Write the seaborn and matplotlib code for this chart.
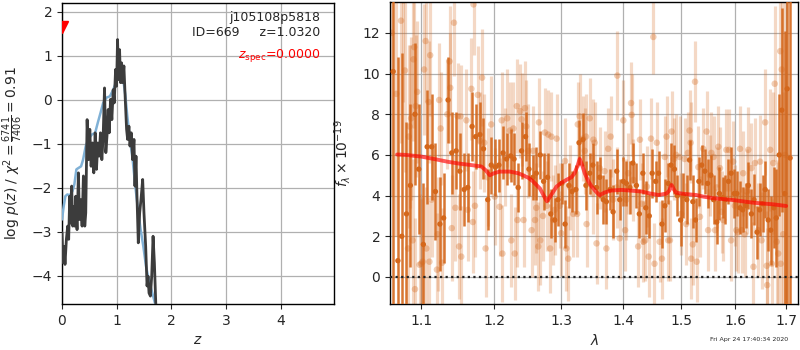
import matplotlib
matplotlib.use("Agg")
import matplotlib.pyplot as plt
import numpy as np
import pandas as pd
import seaborn as sns
from matplotlib.ticker import FixedLocator, NullLocator, FixedFormatter

# ---------------- redshift probability panel ----------------
z_pz = [0.000, 0.018, 0.037, 0.055, 0.080, 0.104, 0.122, 0.141, 0.159, 0.177,
        0.196, 0.214, 0.232, 0.251, 0.275, 0.300, 0.318, 0.343, 0.367, 0.391,
        0.416, 0.434, 0.459, 0.483, 0.508, 0.532, 0.557, 0.581, 0.606, 0.630,
        0.654, 0.679, 0.703, 0.728, 0.752, 0.777, 0.801, 0.826, 0.844, 0.862,
        0.887, 0.911, 0.936, 0.954, 0.979, 0.997, 1.015, 1.034, 1.052, 1.070,
        1.089, 1.107, 1.131, 1.156, 1.180, 1.199, 1.223, 1.242, 1.266, 1.291,
        1.315, 1.333, 1.352, 1.370, 1.394, 1.419, 1.443, 1.474, 1.498, 1.529,
        1.554, 1.572, 1.590, 1.615, 1.639, 1.664, 1.688, 1.713, 1.730]
logp = [-3.02, -3.70, -3.33, -3.74, -3.17, -2.87, -3.17, -2.19, -2.80, -1.96,
        -2.87, -2.42, -2.87, -2.19, -2.95, -1.66, -2.72, -2.27, -2.87, -1.73,
        -2.87, -2.57, -0.45, -1.36, -0.67, -1.51, -0.98, -1.66, -0.75, -1.58,
        -0.98, -1.28, -0.75, -1.36, -0.83, 0.27, -1.20, -0.75, -0.22, -0.75,
        0.01, -0.45, 0.23, -0.07, 0.69, 0.31, 1.37, 0.46, 1.14, 0.39,
        0.84, 0.39, 0.77, 0.01, -0.67, -0.90, -0.60, -1.05, -0.75, -1.36,
        -0.90, -1.96, -1.28, -2.19, -3.25, -2.57, -2.27, -1.81, -2.57, -3.33,
        -4.23, -4.01, -4.39, -4.46, -4.01, -3.10, -3.70, -4.61, -5.00]

z_chi = [0.000, 0.031, 0.061, 0.098, 0.141, 0.190, 0.226, 0.263, 0.300, 0.349,
         0.385, 0.434, 0.483, 0.544, 0.606, 0.654, 0.703, 0.752, 0.813, 0.875,
         0.936, 0.985, 1.034, 1.083, 1.119, 1.156, 1.193, 1.242, 1.291, 1.339,
         1.388, 1.437, 1.486, 1.535, 1.584, 1.633, 1.682, 1.731]
log_chi = [-2.72, -2.42, -2.19, -2.15, -2.17, -2.08, -1.92, -1.58, -1.55, -1.51,
           -1.36, -1.05, -0.90, -0.79, -0.75, -0.52, -0.30, -0.07, 0.05, 0.08,
           0.23, 0.39, 0.54, 0.55, 0.46, 0.12, -0.37, -0.90, -1.36, -1.96,
           -2.49, -2.95, -3.33, -3.78, -4.08, -4.31, -4.54, -4.77]

z_spec = 0.0
z_spec_mark = 1.65
chi2_label = r"$\log\,p(z)$ / $\chi^2=\frac{6741}{7406}=0.91$"
title_text = "j105108p5818\nID=669     z=1.0320"
zspec_text = r"$z_\mathrm{spec}$=0.0000"

# ---------------- 1D spectrum panel ----------------
wave_dark = [1.064, 1.070, 1.075, 1.081, 1.086, 1.092, 1.097, 1.103, 1.108, 1.114,
             1.119, 1.125, 1.130, 1.136, 1.141, 1.147, 1.152, 1.158, 1.163, 1.169,
             1.174, 1.180, 1.185, 1.191, 1.196, 1.202, 1.207, 1.213, 1.218, 1.224,
             1.229, 1.235, 1.240, 1.246, 1.251, 1.257, 1.262, 1.268, 1.273, 1.279,
             1.284, 1.290, 1.295, 1.301, 1.306, 1.312, 1.317, 1.323, 1.328, 1.334,
             1.339, 1.345, 1.350, 1.356, 1.361, 1.367, 1.372, 1.378, 1.383, 1.389,
             1.394, 1.400, 1.405, 1.411, 1.416, 1.422, 1.427, 1.433, 1.438, 1.444,
             1.449, 1.455, 1.460, 1.466, 1.471, 1.477, 1.482, 1.488, 1.493, 1.499,
             1.504, 1.510, 1.515, 1.521, 1.526, 1.532, 1.537, 1.543, 1.548, 1.554,
             1.559, 1.565, 1.570, 1.576, 1.581, 1.587, 1.592, 1.598, 1.603, 1.609,
             1.614, 1.620, 1.625, 1.631, 1.636, 1.642, 1.647, 1.653, 1.658, 1.664,
             1.669, 1.675, 1.680, 1.686, 1.691, 1.697, 1.702, 1.708]
flux_dark = [10.1, 0.8, 2.0, 3.1, 4.5, 8.0, 5.3, 1.6, 6.4, 6.4,
             4.2, 2.6, 2.9, 8.7, 6.1, 6.2, 5.2, 4.3, 4.4, 7.4,
             6.9, 7.0, 6.3, 3.8, 5.5, 5.4, 5.5, 6.1, 5.8, 5.95,
             5.8, 4.4, 6.2, 6.9, 5.3, 4.9, 5.1, 6.0, 4.7, 4.9,
             3.1, 2.8, 3.8, 4.6, 2.6, 4.5, 4.2, 4.3, 6.6, 6.75,
             4.5, 5.1, 5.5, 4.4, 4.9, 3.8, 3.7, 4.3, 3.2, 5.2,
             3.8, 4.7, 4.6, 4.4, 5.6, 4.5, 3.1, 5.1, 3.4, 3.0,
             5.1, 4.7, 5.1, 2.6, 3.5, 4.6, 5.5, 5.3, 4.0, 2.8,
             4.0, 3.8, 5.75, 3.7, 2.8, 4.7, 5.5, 5.2, 4.6, 5.0,
             3.8, 2.7, 4.1, 3.9, 3.8, 4.7, 5.1, 4.1, 4.1, 3.4,
             3.3, 3.5, 4.5, 3.1, 3.8, 2.2, 3.3, 3.6, 4.3, 2.8,
             2.3, 3.4, 2.9, 6.0, 8.2, 4.1, 9.25, 5.85]
err_dark = [12.0, 10.0, 9.0, 4.5, 4.0, 3.5, 3.2, 3.0, 2.8, 2.6,
            2.4, 2.3, 2.2, 2.1, 2.0, 1.9, 1.9, 1.8, 1.7, 1.7,
            1.6, 1.6, 1.5, 1.5, 1.4, 1.4, 1.3, 1.3, 1.3, 1.3,
            1.3, 1.2, 1.4, 1.2, 1.3, 1.1, 1.3, 1.2, 1.4, 1.2,
            1.2, 1.1, 1.3, 1.0, 1.2, 1.1, 1.0, 1.2, 1.1, 1.3,
            1.2, 1.0, 1.1, 1.3, 1.0, 1.2, 1.1, 1.0, 1.3, 1.1,
            1.0, 1.2, 1.1, 1.3, 1.0, 1.1, 1.2, 1.0, 1.3, 1.1,
            1.2, 1.0, 1.1, 1.2, 1.3, 1.0, 1.1, 1.2, 1.0, 1.3,
            1.1, 1.2, 1.0, 1.3, 1.1, 1.2, 1.0, 1.1, 1.2, 1.0,
            1.2, 1.1, 1.3, 1.0, 1.2, 1.1, 1.3, 1.2, 1.1, 1.3,
            1.1, 1.1, 1.15, 1.2, 1.25, 1.3, 1.3, 1.4, 1.4, 1.5,
            1.7, 2.0, 2.4, 3.0, 5.0, 8.0, 12.0, 15.0]

wave_light = [1.062, 1.068, 1.074, 1.077, 1.079, 1.083, 1.084, 1.085, 1.087, 1.089,
              1.090, 1.091, 1.092, 1.093, 1.095, 1.098, 1.100, 1.102, 1.104, 1.106,
              1.107, 1.110, 1.111, 1.112, 1.114, 1.121, 1.122, 1.124, 1.126, 1.128,
              1.135, 1.138, 1.139, 1.141, 1.144, 1.146, 1.149, 1.151, 1.153, 1.154,
              1.161, 1.163, 1.168, 1.170, 1.171, 1.173, 1.177, 1.180, 1.183, 1.186,
              1.188, 1.191, 1.196, 1.201, 1.208, 1.211, 1.212, 1.216, 1.219, 1.223,
              1.225, 1.228, 1.230, 1.233, 1.234, 1.238, 1.240, 1.243, 1.245, 1.247,
              1.250, 1.255, 1.257, 1.260, 1.262, 1.265, 1.266, 1.268, 1.272, 1.275,
              1.278, 1.280, 1.283, 1.285, 1.288, 1.290, 1.293, 1.298, 1.300, 1.306,
              1.308, 1.311, 1.314, 1.319, 1.325, 1.326, 1.329, 1.334, 1.337, 1.339,
              1.340, 1.345, 1.350, 1.351, 1.353, 1.356, 1.361, 1.369, 1.372, 1.375,
              1.379, 1.383, 1.389, 1.390, 1.394, 1.400, 1.403, 1.405, 1.408, 1.413,
              1.414, 1.417, 1.425, 1.428, 1.431, 1.434, 1.437, 1.440, 1.443, 1.447,
              1.451, 1.453, 1.457, 1.462, 1.466, 1.471, 1.474, 1.477, 1.480, 1.483,
              1.487, 1.491, 1.497, 1.500, 1.506, 1.509, 1.512, 1.515, 1.517, 1.518,
              1.521, 1.525, 1.528, 1.531, 1.534, 1.540, 1.546, 1.549, 1.552, 1.555,
              1.559, 1.562, 1.565, 1.568, 1.571, 1.574, 1.577, 1.583, 1.588, 1.592,
              1.596, 1.599, 1.602, 1.605, 1.609, 1.612, 1.615, 1.618, 1.622, 1.625,
              1.631, 1.635, 1.638, 1.644, 1.648, 1.651, 1.658, 1.661, 1.662, 1.668,
              1.671, 1.674, 1.677, 1.681, 1.684, 1.688, 1.689, 1.691, 1.694, 1.698]
flux_light = [12.0, 9.0, 12.6, 13.6, 10.15, 1.4, 6.9, 7.4, 7.8, 1.8,
              10.7, 11.3, -0.6, 8.4, 9.1, 0.6, 0.65, 0.75, 10.2, 11.6,
              1.4, 8.6, 0.75, 10.9, 3.8, 0.36, 2.1, 8.7, 7.3, 0.7,
              8.0, 10.6, 9.3, 2.4, 12.5, 3.4, 7.9, 1.5, 7.9, 1.0,
              7.7, 3.3, 9.25, 2.7, 13.4, 3.5, 8.95, 6.7, 9.8, 6.6,
              1.4, 4.9, 7.5, 3.95, 3.45, 7.7, 1.15, 5.9, 7.8, 7.2,
              1.8, 7.3, 1.15, 8.4, 2.8, 8.15, 7.75, 2.8, 8.3, 7.4,
              6.2, 2.3, 6.2, 2.8, 3.4, 1.5, 7.6, 1.8, 3.0, 7.1,
              3.5, 7.0, 1.4, 6.9, 2.8, 3.3, 6.8, 3.5, 2.15, 5.7,
              1.4, 0.9, 4.4, 3.1, 3.1, 7.5, 7.9, 6.8, 6.2, 6.9,
              2.6, 7.8, 4.1, 6.75, 6.6, 1.65, 5.35, 5.2, 1.4, 6.3,
              6.9, 3.8, 4.4, 9.9, 1.9, 7.7, 2.3, 3.8, 5.1, 8.55,
              7.97, 4.77, 1.5, 6.75, 3.6, 1.73, 1.8, 4.44, 1.0, 6.8,
              11.8, 0.65, 6.6, 1.73, 0.9, 5.9, 6.9, 1.8, 1.8, 7.15,
              5.8, 6.0, 5.9, 3.1, 5.8, 2.6, 6.1, 7.2, 6.6, 0.9,
              1.6, 9.6, 0.75, 5.4, 2.96, 6.3, 7.15, 2.3, 5.0, 6.1,
              5.9, 2.3, 4.4, 6.4, 5.35, 3.2, 2.8, 6.25, 6.25, 1.8,
              5.67, 3.5, 2.3, 2.2, 6.3, 2.3, 5.1, 2.1, 4.2, 6.25,
              5.35, 0.5, 5.6, 2.3, 5.67, 1.8, 7.6, 0.55, -0.4, 6.25,
              0.65, 5.6, 9.5, 1.73, 1.15, 11.1, 0.65, 10.2, 2.1, 6.0]
err_light = [8.0, 7.0, 6.0, 5.0, 5.0, 4.5, 4.5, 4.0, 4.0, 4.0,
             4.0, 4.0, 3.5, 3.5, 3.5, 3.5, 3.2, 3.2, 3.2, 3.0,
             3.0, 3.0, 3.0, 3.0, 2.8, 2.8, 2.8, 2.8, 2.8, 2.7,
             2.7, 2.7, 2.7, 2.6, 2.6, 2.6, 2.6, 2.6, 2.5, 2.5,
             2.5, 2.5, 2.5, 2.5, 2.5, 2.5, 2.4, 2.4, 2.4, 2.4,
             2.4, 2.4, 2.4, 2.4, 2.4, 2.4, 2.4, 2.4, 2.4, 2.4,
             2.3, 2.3, 2.3, 2.3, 2.3, 2.3, 2.3, 2.3, 2.3, 2.3,
             2.3, 2.3, 2.2, 2.2, 2.2, 2.2, 2.2, 2.2, 2.2, 2.2,
             2.2, 2.2, 2.2, 2.2, 2.2, 2.2, 2.2, 2.1, 2.1, 2.1,
             2.1, 2.1, 2.1, 2.1, 2.1, 2.1, 2.1, 2.1, 2.1, 2.1,
             2.1, 2.0, 2.0, 2.0, 2.0, 2.0, 2.0, 2.0, 2.0, 2.0,
             2.0, 2.0, 2.0, 2.2, 2.0, 2.0, 2.0, 2.0, 2.0, 2.0,
             2.0, 2.0, 2.0, 2.0, 2.0, 2.0, 2.0, 2.0, 2.0, 2.0,
             1.8, 2.0, 2.0, 2.0, 2.0, 2.0, 2.0, 2.0, 2.0, 2.0,
             2.0, 2.0, 2.0, 2.0, 2.0, 2.0, 2.0, 2.0, 2.0, 2.0,
             2.0, 2.0, 2.0, 2.0, 2.0, 2.0, 2.0, 2.0, 2.0, 2.0,
             2.0, 2.0, 2.0, 2.0, 2.0, 2.0, 2.0, 2.0, 2.0, 2.0,
             2.0, 2.0, 2.0, 2.0, 2.1, 2.1, 2.1, 2.1, 2.1, 2.1,
             2.2, 2.2, 2.2, 2.3, 2.3, 2.4, 2.6, 2.7, 2.8, 3.0,
             3.2, 3.5, 3.8, 4.0, 4.5, 5.0, 5.5, 6.0, 7.0, 9.0]

wave_model = [1.069, 1.080, 1.100, 1.120, 1.136, 1.150, 1.168, 1.182, 1.188, 1.194,
              1.200, 1.208, 1.223, 1.235, 1.242, 1.250, 1.257, 1.2675, 1.274, 1.278,
              1.283, 1.293, 1.300, 1.308, 1.316, 1.321, 1.326, 1.329, 1.333, 1.337,
              1.343, 1.348, 1.355, 1.361, 1.369, 1.380, 1.397, 1.415, 1.431, 1.446,
              1.460, 1.474, 1.479, 1.483, 1.487, 1.491, 1.506, 1.527, 1.540, 1.559,
              1.596, 1.635, 1.674, 1.700]
flux_model = [6.02, 6.00, 5.92, 5.78, 5.66, 5.58, 5.50, 5.43, 5.25, 5.00,
              5.10, 5.18, 5.18, 5.10, 5.00, 4.88, 4.70, 4.35, 3.95, 3.72,
              3.95, 4.45, 4.62, 4.77, 4.90, 5.10, 5.50, 5.80, 5.50, 5.10,
              4.70, 4.45, 4.20, 4.02, 4.15, 4.25, 4.28, 4.24, 4.20, 4.10,
              4.03, 4.10, 4.25, 4.52, 4.30, 4.14, 4.08, 4.03, 3.95, 3.87,
              3.78, 3.65, 3.57, 3.49]

wave_ticks = [1.1, 1.2, 1.3, 1.4, 1.5, 1.6, 1.7]
timestamp = "Fri Apr 24 17:40:34 2020"

# ---------------- figure ----------------
sns.set_style("ticks")
plt.rcParams["font.family"] = ["DejaVu Sans"]
plt.rcParams["font.size"] = 9
plt.rcParams["mathtext.fontset"] = "dejavusans"

grism_color = "#d4671b"
grid_kw = dict(color="#b0b0b0", linewidth=0.9)

fig = plt.figure(figsize=(8, 3.5), dpi=100)
ax1 = fig.add_axes([0.0775, 0.1314, 0.340, 0.860])
ax2 = fig.add_axes([0.4875, 0.1314, 0.5105, 0.863])

# left: p(z) and chi2 curves
pz_df = pd.DataFrame({"z": z_pz, "logp": logp})
chi_df = pd.DataFrame({"z": z_chi, "logchi": log_chi})
sns.lineplot(data=chi_df, x="z", y="logchi", ax=ax1, color="#80b1d6",
             linewidth=1.8, sort=False, estimator=None, zorder=3)
sns.lineplot(data=pz_df, x="z", y="logp", ax=ax1, color="#3c3c3c",
             linewidth=2.0, sort=False, estimator=None, zorder=4)
ax1.plot([z_spec], [z_spec_mark], marker="v", color="red", markersize=8,
         linestyle="none", zorder=5)

ax1.set_xlim(0, 4.97)
ax1.set_ylim(-4.64, 2.2)
ax1.set_xticks([0, 1, 2, 3, 4])
ax1.set_yticks([-4, -3, -2, -1, 0, 1, 2])
ax1.grid(True, **grid_kw)
ax1.set_axisbelow(True)
ax1.set_xlabel("$z$", fontsize=10)
ax1.set_ylabel(chi2_label, fontsize=10)
ax1.yaxis.set_label_coords(-0.135, 0.5)
ax1.xaxis.set_label_coords(0.5, -0.095)
ax1.text(0.95, 0.975, title_text, transform=ax1.transAxes, ha="right",
         va="top", fontsize=9, linespacing=1.25)
ax1.text(0.95, 0.825, zspec_text, transform=ax1.transAxes, ha="right",
         va="center", fontsize=9, color="red")

# right: spectrum
ax2.set_xscale("log")
ax2.errorbar(wave_light, flux_light, yerr=err_light, fmt="none",
             ecolor=grism_color, elinewidth=2.3, alpha=0.25, zorder=2)
sns.scatterplot(x=wave_light, y=flux_light, ax=ax2, color=grism_color,
                alpha=0.32, s=22, edgecolor="none", zorder=2.5, legend=False)
ax2.errorbar(wave_dark, flux_dark, yerr=err_dark, fmt="none",
             ecolor=grism_color, elinewidth=1.8, alpha=0.9, zorder=3)
sns.scatterplot(x=wave_dark, y=flux_dark, ax=ax2, color=grism_color,
                s=15, edgecolor="none", zorder=3.5, legend=False)
model_df = pd.DataFrame({"wave": wave_model, "flux": flux_model})
sns.lineplot(data=model_df, x="wave", y="flux", ax=ax2, color="red",
             alpha=0.65, linewidth=2.8, sort=False, estimator=None, zorder=5)
ax2.axhline(0, color="#222222", linestyle=(0, (1, 1.5)), linewidth=1.6,
            zorder=6)

ax2.set_xlim(1.060, 1.725)
ax2.set_ylim(-1.33, 13.52)
ax2.xaxis.set_major_locator(FixedLocator(wave_ticks))
ax2.xaxis.set_major_formatter(FixedFormatter([f"{w:.1f}" for w in wave_ticks]))
ax2.xaxis.set_minor_locator(NullLocator())
ax2.set_yticks([0, 2, 4, 6, 8, 10, 12])
ax2.grid(True, **grid_kw)
ax2.set_axisbelow(True)
ax2.set_xlabel(r"$\lambda$", fontsize=10)
ax2.set_ylabel(r"$f_\lambda \times 10^{-19}$", fontsize=10)
ax2.yaxis.set_label_coords(-0.09, 0.5)
ax2.xaxis.set_label_coords(0.5, -0.095)

for ax in (ax1, ax2):
    for sp in ax.spines.values():
        sp.set_color("black")
        sp.set_linewidth(1.0)
    ax.tick_params(direction="out", length=3.5, width=0.8, labelsize=10)

fig.text(0.985, 0.031, timestamp, ha="right", va="center", fontsize=4.5)

fig.savefig("out.png", dpi=100)
